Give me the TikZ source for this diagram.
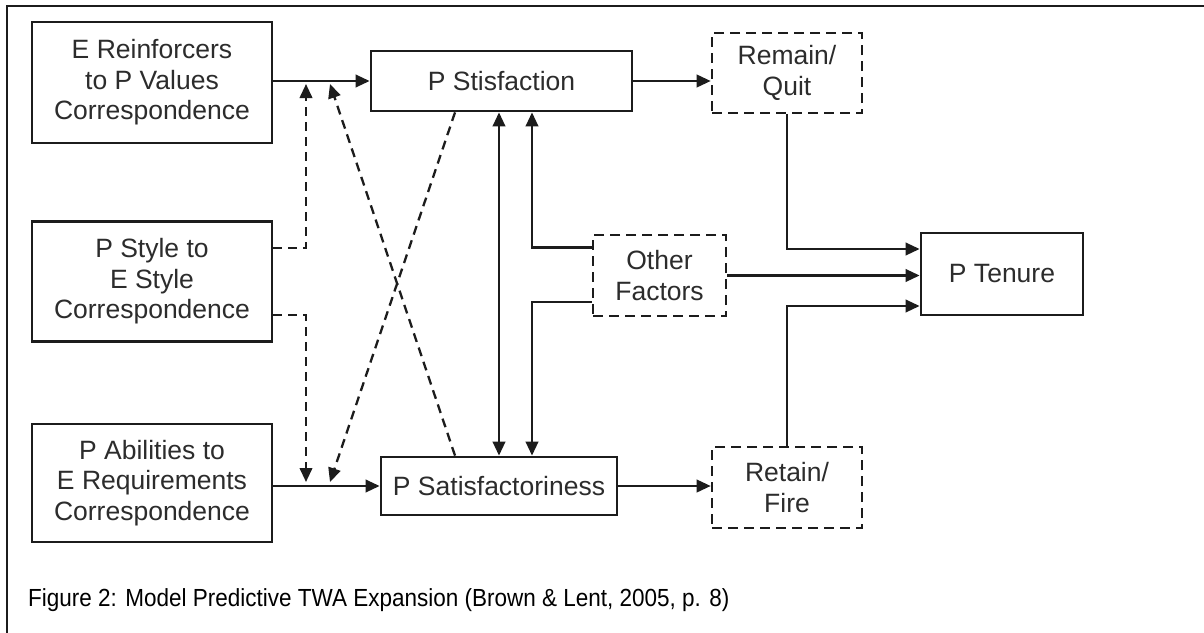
\documentclass[tikz,border=0pt]{standalone}
\usepackage{fontspec}
\setmainfont{Liberation Sans}
\usetikzlibrary{arrows.meta,calc}
\definecolor{ink}{HTML}{1c1c1c}
\definecolor{txt}{HTML}{2c2c2c}

\begin{document}
\begin{tikzpicture}[x=1pt,y=-1pt,
  >={Triangle[length=14pt,width=12.5pt]},
  box/.style={draw=ink,line width=2.8pt,inner sep=0pt,align=center,text=txt,
    font=\fontsize{26.5}{30.5}\selectfont},
  dbox/.style={box,line width=2.6pt,dash pattern=on 10pt off 6pt},
  conn/.style={draw=ink,line width=2.3pt,->},
  dconn/.style={conn,dash pattern=on 9pt off 6pt},
  biconn/.style={draw=ink,line width=2.3pt,<->}
]
\useasboundingbox (0,0) rectangle (1204,632);
\fill[white] (0,0) rectangle (1204,632);
% frame around the figure (open at right and bottom)
\draw[ink,line width=2.8pt] (7,650) -- (7,6) -- (1220,6);

% correspondence boxes
\node[box,minimum width=240pt,minimum height=121pt] (A) at (152,82.5)
  {E Reinforcers\\to P Values\\Correspondence};
\node[box,minimum width=240pt,minimum height=120pt] (B) at (152,281.5)
  {P Style to\\E Style\\Correspondence};
\node[box,minimum width=240pt,minimum height=118pt] (C) at (152,483)
  {P Abilities to\\E Requirements\\Correspondence};

% outcome boxes
\node[box,minimum width=261pt,minimum height=60pt] (Stisf) at (501.5,81) {P Stisfaction};
\node[box,minimum width=236pt,minimum height=58pt] (Satisf) at (499,486) {P Satisfactoriness};
\node[dbox,minimum width=150pt,minimum height=80pt] (RQ) at (787,73) {Remain/\\Quit};
\node[dbox,minimum width=150pt,minimum height=81pt] (RF) at (787,487.5) {Retain/\\Fire};
\node[dbox,minimum width=133pt,minimum height=81pt] (Other) at (659.5,275.5) {Other\\Factors};
\node[box,minimum width=162pt,minimum height=82pt] (Tenure) at (1002,274) {P Tenure};

% tips of the moderating arrows on the two input lines
\coordinate (jt1) at (306,84);
\coordinate (jt2) at (330,84);
\coordinate (jb1) at (306,482);
\coordinate (jb2) at (330,482);

% main inputs
\draw[conn] (A.east |- Stisf.west) -- (Stisf.west);
\draw[conn] (C.east |- Satisf.west) -- (Satisf.west);

% style correspondence as moderator
\draw[dconn] ([yshift=33.5pt]B.east) -| (jt1);
\draw[dconn] ([yshift=-33.5pt]B.east) -| (jb1);

% crossed moderators
\draw[dconn] ([xshift=-44pt]Satisf.north) -- (jt2);
\draw[dconn] ([xshift=-46.5pt]Stisf.south) -- (jb2);

% reciprocal link and other factors
\draw[biconn] (Satisf.north) -- (Satisf.north |- Stisf.south);
\draw[conn] ([yshift=28pt]Other.west) -| ([xshift=30.5pt]Stisf.south);
\draw[conn] ([yshift=-26.5pt]Other.west) -| ([xshift=33pt]Satisf.north);

% outcomes to tenure
\draw[conn] (Stisf.east) -- (Stisf.east -| RQ.west);
\draw[conn] (Satisf.east) -- (Satisf.east -| RF.west);
\draw[conn] (Other.east) -- (Other.east -| Tenure.west);
\draw[conn] (RQ.south) |- ([yshift=25pt]Tenure.west);
\draw[conn] (RF.north) |- ([yshift=-32pt]Tenure.west);

% caption
\node[anchor=base west,inner sep=0pt,font=\fontsize{22.5}{27}\selectfont] (cap) at (28,606)
  {\scalebox{1}[1.1]{Figure 2: Model Predictive TWA Expansion (Brown \& Lent, 2005, p. 8)}};
\end{tikzpicture}
\end{document}
